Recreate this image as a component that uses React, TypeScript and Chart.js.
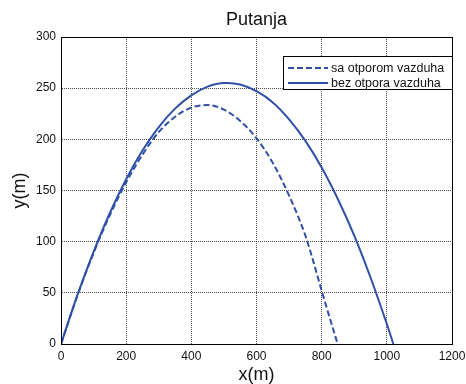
import { useEffect, useRef } from 'react';
import { Chart, registerables } from 'chart.js';
Chart.register(...registerables);

const TITLE = 'Putanja';
const X_LABEL = 'x(m)';
const Y_LABEL = 'y(m)';
const LEGEND_LABELS = ['sa otporom vazduha', 'bez otpora vazduha'];

const xDrag = [0, 50, 100, 150, 200, 250, 300, 350, 400, 450, 500, 550, 600, 650, 700, 750, 775, 800, 849];
const yDrag = [0, 47, 89, 126, 158, 185, 207, 222, 231, 233.5, 229, 218, 201, 177, 145, 106, 80, 52, 0];

const xNoDrag = [0, 50, 100, 150, 200, 250, 300, 350, 400, 450, 500, 510, 550, 600, 650, 700, 750, 800, 850, 900, 950, 1000, 1020];
const yNoDrag = [0, 47.5, 90, 128, 161, 189, 212, 230, 243, 251.5, 255, 255, 253.5, 247, 236, 219.5, 198.5, 172.5, 141.5, 106, 65, 19.5, 0];

const X_MIN = 0, X_MAX = 1200, X_STEP = 200;
const Y_MIN = 0, Y_MAX = 300, Y_STEP = 50;

const BLUE = '#3050a8';
const FONT = '"Liberation Sans", Arial, sans-serif';

const decor = {
  id: 'decor',
  afterDraw(chart: any) {
    const { ctx, chartArea: a } = chart;
    ctx.save();
    // frame
    ctx.strokeStyle = '#000';
    ctx.lineWidth = 1;
    ctx.setLineDash([]);
    ctx.strokeRect(Math.round(a.left) + 0.5, Math.round(a.top) + 0.5, Math.round(a.right - a.left), Math.round(a.bottom - a.top));
    // title & axis labels
    ctx.fillStyle = '#111';
    ctx.textAlign = 'center';
    ctx.textBaseline = 'middle';
    ctx.font = `18px ${FONT}`;
    ctx.fillText(TITLE, (a.left + a.right) / 2, 20);
    ctx.fillText(X_LABEL, (a.left + a.right) / 2, 375);
    ctx.save();
    ctx.translate(20, (a.top + a.bottom) / 2);
    ctx.rotate(-Math.PI / 2);
    ctx.fillText(Y_LABEL, 0, 0);
    ctx.restore();
    // legend
    const lx = 283, ly = 56, lw = 169, lh = 33;
    ctx.fillStyle = '#fff';
    ctx.fillRect(lx, ly, lw, lh);
    ctx.strokeStyle = '#000';
    ctx.strokeRect(lx + 0.5, ly + 0.5, lw, lh);
    const rows = [68, 83];
    ctx.strokeStyle = BLUE;
    ctx.lineWidth = 2;
    rows.forEach((ry, i) => {
      ctx.setLineDash(i === 0 ? [6, 3] : []);
      ctx.beginPath();
      ctx.moveTo(288, ry);
      ctx.lineTo(328, ry);
      ctx.stroke();
    });
    ctx.setLineDash([]);
    ctx.fillStyle = '#111';
    ctx.textAlign = 'left';
    ctx.font = `12.5px ${FONT}`;
    rows.forEach((ry, i) => ctx.fillText(LEGEND_LABELS[i], 331, ry + 1));
    ctx.restore();
  },
};

export default function App() {
  const ref = useRef<HTMLCanvasElement>(null);
  useEffect(() => {
    document.body.style.margin = '0';
    const grid = { color: 'rgba(0,0,0,0.7)', lineWidth: 1, drawTicks: false };
    const tickFont = { family: FONT, size: 12 };
    const fmt = (v: any) => String(v);
    const chart = new Chart(ref.current as HTMLCanvasElement, {
      type: 'scatter',
      data: {
        datasets: [
          {
            label: LEGEND_LABELS[0],
            data: xDrag.map((x, i) => ({ x, y: yDrag[i] })),
            showLine: true,
            borderColor: BLUE,
            borderWidth: 2,
            borderDash: [6, 3],
            pointRadius: 0,
            cubicInterpolationMode: 'monotone',
          },
          {
            label: LEGEND_LABELS[1],
            data: xNoDrag.map((x, i) => ({ x, y: yNoDrag[i] })),
            showLine: true,
            borderColor: BLUE,
            borderWidth: 2,
            pointRadius: 0,
            cubicInterpolationMode: 'monotone',
          },
        ],
      },
      options: {
        responsive: false,
        animation: false,
        layout: { padding: { top: 37, right: 14, left: 0, bottom: 0 } },
        plugins: { legend: { display: false }, tooltip: { enabled: false }, title: { display: false } },
        scales: {
          x: {
            type: 'linear',
            min: X_MIN,
            max: X_MAX,
            ticks: { stepSize: X_STEP, padding: 5, color: '#111', font: tickFont, maxRotation: 0, callback: fmt },
            grid,
            border: { display: true, color: '#000', dash: [1, 1] },
            afterFit: (s: any) => { s.height = 40; s.paddingLeft = 0; s.paddingRight = 0; },
          },
          y: {
            type: 'linear',
            min: Y_MIN,
            max: Y_MAX,
            ticks: { stepSize: Y_STEP, padding: 5, color: '#111', font: tickFont, callback: fmt },
            grid,
            border: { display: true, color: '#000', dash: [1, 1] },
            afterFit: (s: any) => { s.width = 61; s.paddingTop = 0; s.paddingBottom = 0; },
          },
        },
      } as any,
      plugins: [decor],
    });
    return () => chart.destroy();
  }, []);
  return (
    <div style={{ position: 'absolute', left: 0, top: 0, width: 466, height: 384, background: '#fff' }}>
      <canvas ref={ref} width={466} height={384} style={{ width: 466, height: 384 }} />
    </div>
  );
}
